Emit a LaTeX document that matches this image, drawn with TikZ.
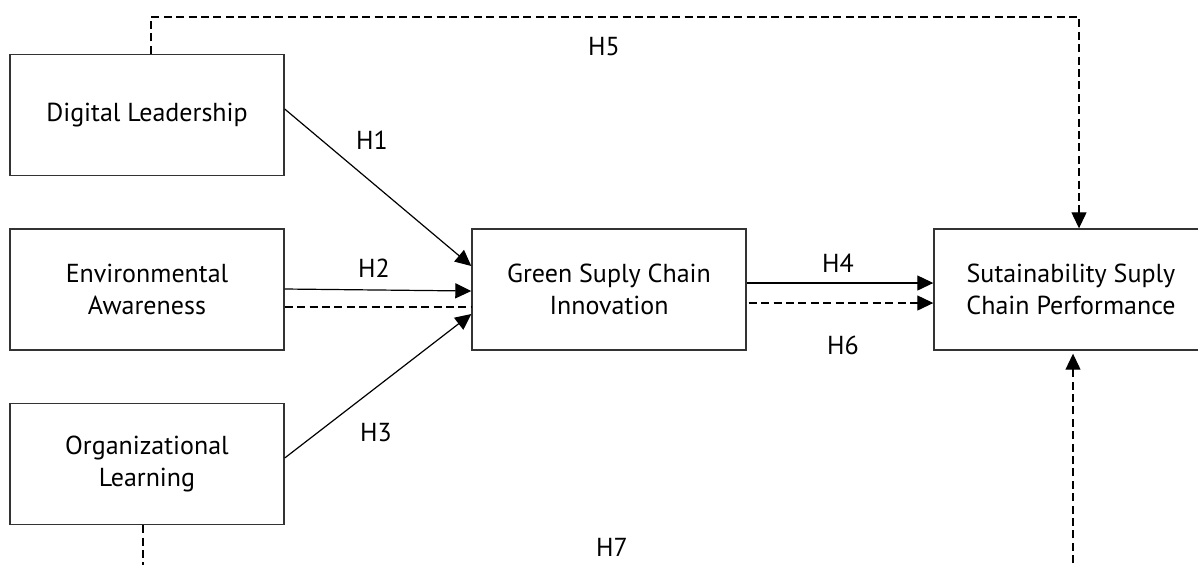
\documentclass[tikz,border=0pt]{standalone}
\usepackage{fontspec}
\setmainfont{PT Sans}
\usetikzlibrary{arrows.meta}
\begin{document}
\begin{tikzpicture}[x=0.5pt,y=-0.5pt,
  box/.style={draw=black!80,line width=0.7pt,minimum width=137pt,minimum height=60.5pt,inner sep=0pt,align=center,font=\fontsize{13pt}{16pt}\selectfont},
  lbl/.style={font=\fontsize{13pt}{16pt}\selectfont,inner sep=0pt},
  conn/.style={line width=0.6pt,-{Triangle[length=8pt,width=7.5pt]}},
  dconn/.style={conn,dash pattern=on 4pt off 2.2pt},
  dline/.style={line width=0.6pt,dash pattern=on 4pt off 2.2pt}]
\useasboundingbox (0,0) rectangle (1198,564);
\clip (0,0) rectangle (1198,564);
\node[box] (DL) at (147,115) {Digital Leadership};
\node[box] (EA) at (147,289.5) {Environmental\\Awareness};
\node[box] (OL) at (147,464) {Organizational\\Learning};
\node[box] (GS) at (609,289.5) {Green Suply Chain\\Innovation};
\node[box] (SS) at (1071,289.5) {Sutainability Suply\\Chain Performance};
\draw[conn] ([yshift=3pt]DL.east) -- ([yshift=11.75pt]GS.west);
\draw[conn] ([yshift=0.25pt]EA.east) -- ([yshift=-0.75pt]GS.west);
\draw[dline] ([yshift=-8.75pt]EA.east) -- ([yshift=-8.75pt]GS.west);
\draw[conn] ([yshift=3pt]OL.east) -- ([yshift=-12.25pt]GS.west);
\draw[conn] ([yshift=3.25pt]GS.east) -- ([yshift=3.25pt]SS.west);
\draw[dconn] ([yshift=-6.75pt,xshift=1pt]GS.east) -- ([yshift=-6.75pt]SS.west);
\coordinate (t5) at (151,17);
\coordinate (b7) at (143,600);
\draw[dconn] ([xshift=2pt]DL.north) -- (t5) -| ([xshift=4pt]SS.north);
\draw[dconn] ([xshift=-2pt]OL.south) -- (b7) -| ([xshift=1pt,yshift=-1.5pt]SS.south);
\node[lbl] (H1) at (372,140) {H1};
\node[lbl] (H2) at (374,268) {H2};
\node[lbl] (H3) at (376,433) {H3};
\node[lbl] (H4) at (838,263) {H4};
\node[lbl] (H5) at (604,47) {H5};
\node[lbl] (H6) at (843,345) {H6};
\node[lbl] (H7) at (612,547) {H7};
\end{tikzpicture}
\end{document}
